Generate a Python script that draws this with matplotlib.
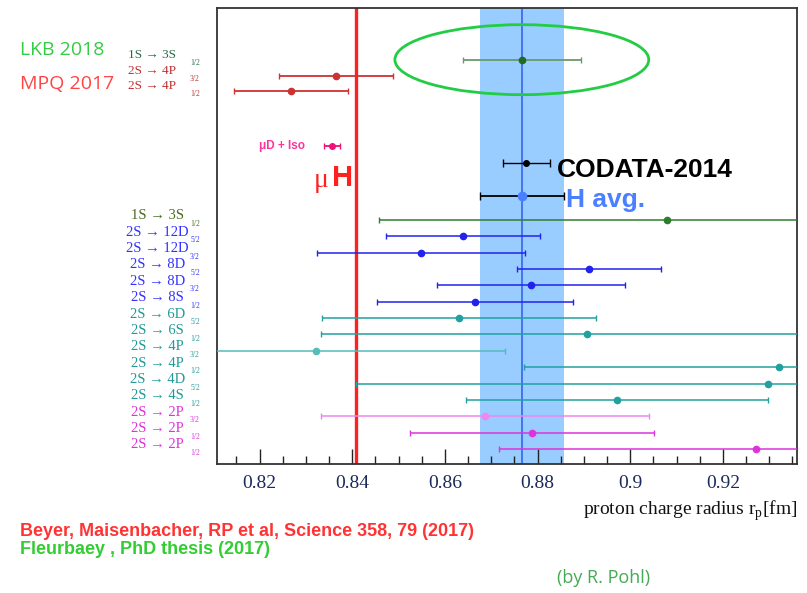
import numpy as np
import matplotlib
matplotlib.use("Agg")
import matplotlib.pyplot as plt
from matplotlib.patches import Ellipse

SERIF = ["Liberation Serif", "DejaVu Serif"]
SANS = ["Liberation Sans", "DejaVu Sans"]

# ---- hydrogen spectroscopy results (proton radius, fm) ----
h_lines = ["1S → 3S", "2S → 12D", "2S → 12D", "2S → 8D", "2S → 8D", "2S → 8S",
           "2S → 6D", "2S → 6S", "2S → 4P", "2S → 4P", "2S → 4D", "2S → 4S",
           "2S → 2P", "2S → 2P", "2S → 2P"]
h_j = ["1/2", "5/2", "3/2", "5/2", "3/2", "1/2",
       "5/2", "1/2", "3/2", "1/2", "5/2", "1/2",
       "3/2", "1/2", "1/2"]
h_rp = [0.9079, 0.8639, 0.8548, 0.8911, 0.8786, 0.8665,
        0.8630, 0.8907, 0.8322, 0.9321, 0.9297, 0.8971,
        0.8687, 0.8788, 0.9271]
h_err = [0.0621, 0.0166, 0.0225, 0.0156, 0.0203, 0.0211,
         0.0296, 0.0574, 0.0407, 0.0550, 0.0890, 0.0326,
         0.0354, 0.0264, 0.0554]
h_colors = ["#2e7d2e", "#2222ee", "#2222ee", "#2222ee", "#2222ee", "#2222ee",
            "#22a0a0", "#22a0a0", "#55bcbc", "#22a0a0", "#22a0a0", "#22a0a0",
            "#ee88ee", "#dd33dd", "#dd33dd"]
h_label_colors = ["#4a6a20", "#3333ff", "#3333ff", "#3333ff", "#3333ff", "#3333ff",
                  "#229999", "#229999", "#229999", "#229999", "#229999", "#229999",
                  "#dd33dd", "#dd33dd", "#dd33dd"]

# ---- new measurements (LKB 2018, MPQ 2017) ----
new_lines = ["1S → 3S", "2S → 4P", "2S → 4P"]
new_j = ["1/2", "3/2", "1/2"]
new_rp = [0.8766, 0.8365, 0.8268]
new_err = [0.0128, 0.0123, 0.0123]
new_colors = ["#1f6b1f", "#cc3333", "#cc3333"]
new_bar_colors = ["#6a9a6a", "#cc3333", "#cc3333"]
new_label_colors = ["#2a6a4a", "#c03030", "#c03030"]

# ---- reference values ----
muH_rp = 0.84087
muD_rp, muD_err = 0.8356, 0.0017
codata_rp, codata_err = 0.8776, 0.0051
havg_rp, havg_err = 0.8766, 0.0090

# row positions (top group, reference rows, hydrogen list)
new_rows = [23.8, 22.8, 21.9]
muD_row = 18.5
codata_row = 17.5
havg_row = 15.45
h_rows = np.arange(len(h_rp))[::-1]

fig = plt.figure(figsize=(8.07, 5.93), dpi=100)
ax = fig.add_axes([217 / 807, 1 - 464 / 593, 580 / 807, 456 / 593])
ax.set_xlim(0.8108, 0.9360)
ax.set_ylim(-0.92, 26.96)

# H average band and central line
ax.axvspan(havg_rp - havg_err, havg_rp + havg_err, color="#99ccff", lw=0, zorder=0)
ax.axvline(havg_rp, color="#3a6ef0", lw=1.3, zorder=1)
# muonic hydrogen value
ax.axvline(muH_rp, color="#ff2020", lw=2.4, zorder=1)

# hydrogen measurements
for y, v, e, c in zip(h_rows, h_rp, h_err, h_colors):
    ax.errorbar(v, y, xerr=e, fmt="o", color=c, ms=4.5, elinewidth=1.1,
                capsize=2, capthick=1.0, zorder=3)

# new measurements
for y, v, e, c, bc in zip(new_rows, new_rp, new_err, new_colors, new_bar_colors):
    ax.errorbar(v, y, xerr=e, fmt="o", color=c, ecolor=bc, ms=4.5,
                elinewidth=1.3, capsize=2, capthick=1.0, zorder=3)

# muonic deuterium + isotope shift
ax.errorbar(muD_rp, muD_row, xerr=muD_err, fmt="o", color="#ee1177", ms=4,
            elinewidth=1.3, capsize=2, capthick=1.0, zorder=3)
# CODATA 2014
ax.errorbar(codata_rp, codata_row, xerr=codata_err, fmt="o", color="black",
            ms=4, elinewidth=1.0, capsize=3, capthick=1.0, zorder=3)
# H average
ax.errorbar(havg_rp, havg_row, xerr=havg_err, fmt="none", ecolor="black",
            elinewidth=1.3, capsize=3, capthick=1.0, zorder=3)
ax.plot(havg_rp, havg_row, "o", color="#4a7fff", ms=6, zorder=4)

# highlight the LKB result
ax.add_patch(Ellipse((new_rp[0], new_rows[0]), 0.0548, 4.28, fill=False,
                     ec="#22cc44", lw=2.0, zorder=5))

# in-plot labels
ax.text(0.8298, muD_row, "μD + Iso", color="#ff3399", fontsize=8.5,
        fontweight="bold", family=SANS, ha="right", va="center")
ax.text(0.8349, 16.4, "μ", color="#ff2020", fontsize=20, family=SERIF,
        ha="right", va="center")
ax.text(0.8401, 16.55, "H", color="#ff2020", fontsize=21, fontweight="bold",
        family=SANS, ha="right", va="center")
ax.text(0.8842, 17.05, "CODATA-2014", color="black", fontsize=19,
        fontweight="bold", family=SANS, ha="left", va="center")
ax.text(0.8862, 15.2, "H avg.", color="#4a7fff", fontsize=19,
        fontweight="bold", family=SANS, ha="left", va="center")

# row labels left of the axes
ytr = ax.get_yaxis_transform()
for y, name, j, c in zip(h_rows, h_lines, h_j, h_label_colors):
    ax.text(-0.103, y + 0.25, name, transform=ytr, color=c, fontsize=10.5,
            family=SERIF, ha="center", va="center", clip_on=False)
    ax.text(-0.038, y - 0.25, j, transform=ytr, color=c, fontsize=5.5,
            family=SERIF, ha="center", va="center", clip_on=False)
for y, name, j, c in zip(new_rows, new_lines, new_j, new_label_colors):
    ax.text(-0.112, y + 0.3, name, transform=ytr, color=c, fontsize=9.5,
            family=SERIF, ha="center", va="center", clip_on=False)
    ax.text(-0.038, y - 0.2, j, transform=ytr, color=c, fontsize=5.5,
            family=SERIF, ha="center", va="center", clip_on=False)

# axes styling
ax.set_xticks(np.arange(0.82, 0.9201, 0.02))
ax.set_xticklabels(["0.82", "0.84", "0.86", "0.88", "0.9", "0.92"])
ax.set_xticks(np.arange(0.815, 0.9351, 0.005), minor=True)
ax.set_yticks([])
ax.tick_params(axis="x", which="major", direction="in", length=11, width=1.0,
               labelsize=14, pad=8, color="#222222")
ax.tick_params(axis="x", which="minor", direction="in", length=6, width=1.0,
               color="#222222")
for lab in ax.get_xticklabels():
    lab.set_family(SERIF)
    lab.set_color("#1a2a5a")
for s in ax.spines.values():
    s.set_color("#333333")
    s.set_linewidth(1.3)

fig.text(797 / 807, 1 - 511 / 593, "proton charge radius r$_{\\mathregular{p}}$[fm]",
         ha="right", va="center", fontsize=14, family=SERIF, color="#111111")

# side and footer notes
fig.text(20 / 807, 1 - 50 / 593, "LKB 2018", color="#33cc44", fontsize=14,
         family=["Open Sans", "DejaVu Sans"], ha="left", va="center")
fig.text(20 / 807, 1 - 84 / 593, "MPQ 2017", color="#ff4444", fontsize=14,
         family=["Open Sans", "DejaVu Sans"], ha="left", va="center")
fig.text(20 / 807, 1 - 531 / 593,
         "Beyer, Maisenbacher, RP et al, Science 358, 79 (2017)",
         color="#ff3333", fontsize=13, fontweight="bold",
         family=SANS, ha="left", va="center")
fig.text(20 / 807, 1 - 550 / 593, "Fleurbaey , PhD thesis (2017)",
         color="#33cc33", fontsize=13, fontweight="bold",
         family=SANS, ha="left", va="center")
fig.text(557 / 807, 1 - 578 / 593, "(by R. Pohl)", color="#44aa55",
         fontsize=13, family=["Open Sans", "DejaVu Sans"], ha="left",
         va="center")

fig.savefig("out.png", dpi=100)
